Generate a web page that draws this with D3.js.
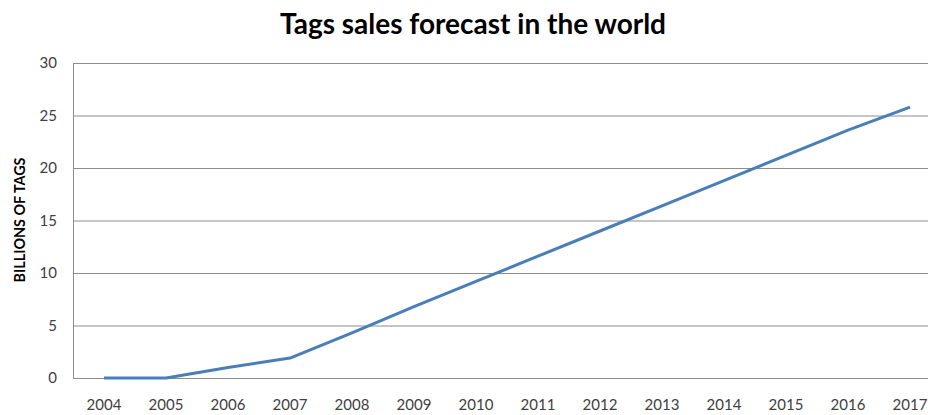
<!DOCTYPE html>
<html><head><meta charset="utf-8">
<script src="https://cdn.jsdelivr.net/npm/d3@7"></script>
<style>body{margin:0;background:#fff;}</style>
</head><body>
<svg id="c" width="928" height="415"></svg>
<script>
const years = ["2004","2005","2006","2007","2008","2009","2010","2011","2012","2013","2014","2015","2016","2017"];
const tags = [0,0,1.0,1.9,4.3,6.8,9.2,11.6,14.0,16.4,18.8,21.2,23.6,25.8];
const yTicks = [0,5,10,15,20,25,30];
const title = "Tags sales forecast in the world";
const yTitle = "BILLIONS OF TAGS";

const svg = d3.select("#c");
const m = {l:73, r:941, t:63, b:378};
const x = d3.scaleBand().domain(years).range([m.l, m.r]);
const y = d3.scaleLinear().domain([0,30]).range([m.b, m.t]);
const font = "Lato, 'Open Sans', sans-serif";

svg.append("g").selectAll("line").data(yTicks).join("line")
  .attr("x1", m.l).attr("x2", 928)
  .attr("y1", d=>y(d)+0.5).attr("y2", d=>y(d)+0.5)
  .attr("stroke", "#8c8c8c").attr("stroke-width", 1);
svg.append("line").attr("x1", m.l+0.5).attr("x2", m.l+0.5).attr("y1", m.t).attr("y2", m.b)
  .attr("stroke", "#8c8c8c");

const ya = svg.append("g").attr("transform", `translate(${m.l},0)`)
  .call(d3.axisLeft(y).tickValues(yTicks).tickSize(0).tickPadding(16));
ya.select(".domain").remove();
ya.selectAll("text").attr("font-family", font).attr("font-size", 15).attr("fill", "#404040");

const xa = svg.append("g").attr("transform", `translate(0,${m.b})`)
  .call(d3.axisBottom(x).tickSize(0).tickPadding(21));
xa.select(".domain").remove();
xa.selectAll("text").attr("font-family", font).attr("font-size", 15).attr("fill", "#404040");

const line = d3.line().x((d,i)=>x(years[i])+x.bandwidth()/2).y(d=>y(d));
svg.append("path").datum(tags).attr("d", line).attr("fill","none")
  .attr("stroke", "#4a7ebb").attr("stroke-width", 3).attr("stroke-linejoin","round");

svg.append("text").attr("x", 473).attr("y", 34).attr("text-anchor","middle")
  .attr("font-family", font).attr("font-weight","bold").attr("font-size", 28).attr("fill","#000")
  .text(title);
svg.append("text").attr("transform","translate(25,220) rotate(-90)").attr("text-anchor","middle")
  .attr("font-family", font).attr("font-weight","bold").attr("font-size", 15).attr("fill","#000")
  .attr("textLength", 125).attr("lengthAdjust","spacingAndGlyphs")
  .text(yTitle);
</script>
</body></html>
